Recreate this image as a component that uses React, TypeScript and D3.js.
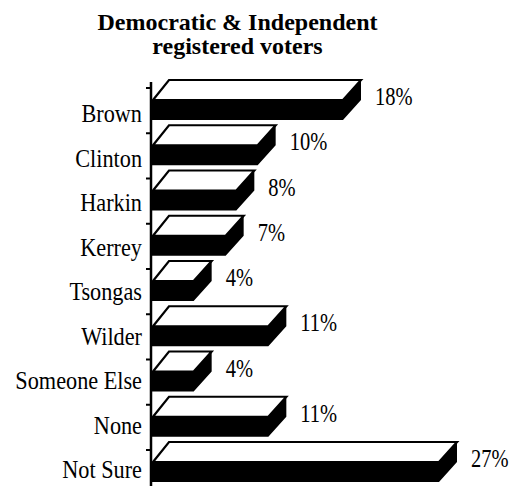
import React from "react";
import * as d3 from "d3";

const categories = ["Brown", "Clinton", "Harkin", "Kerrey", "Tsongas", "Wilder", "Someone Else", "None", "Not Sure"];
const values = [18, 10, 8, 7, 4, 11, 4, 11, 27];
const titleLines = ["Democratic & Independent", "registered voters"];

export default function App() {
  const W = 517, H = 486;
  const x0 = 151;
  const x = d3.scaleLinear().domain([0, 27]).range([x0, 439]);
  const y = d3.scalePoint<string>().domain(categories).range([80, 442]);
  const yl = d3.scalePoint<string>().domain(categories).range([122, 478]);
  const dx = 18, dy = 20, h = 20;
  const font = "'Liberation Serif', 'Times New Roman', serif";
  const labSx = 0.89, valSx = 0.82;
  return (
    <svg width={W} height={H} style={{ position: "fixed", left: 0, top: 0, background: "#fff" }}>
      {titleLines.map((t, i) => (
        <text key={i} x={237.5} y={30 + i * 24} textAnchor="middle" fontFamily={font} fontWeight="bold" fontSize={24}>{t}</text>
      ))}
      <line x1={x0} x2={x0} y1={82} y2={H} stroke="#000" strokeWidth={2.5} />
      {categories.map((c, i) => {
        const yb = y(c)!;
        const xr = x(values[i]);
        const yf = yb + dy;
        const black = `M${x0},${yf} L${xr},${yf} L${xr + dx},${yb} L${xr + dx},${yb + h} L${xr},${yf + h} L${x0},${yf + h} Z`;
        const top = `M${x0 + 2},${yf} L${xr},${yf} L${xr + dx},${yb} L${x0 + dx},${yb} Z`;
        const vx = xr + dx + 14;
        return (
          <g key={c}>
            <line x1={146} x2={x0} y1={yb + 8} y2={yb + 8} stroke="#000" strokeWidth={2} />
            <path d={black} fill="#000" />
            <path d={top} fill="#fff" stroke="#000" strokeWidth={2.2} strokeLinejoin="miter" />
            <text transform={`translate(142,${yl(c)}) scale(${labSx},1)`} textAnchor="end" fontFamily={font} fontSize={25}>{c}</text>
            <text transform={`translate(${vx},${yb + 25}) scale(${valSx},1)`} fontFamily={font} fontSize={25}>{values[i]}%</text>
          </g>
        );
      })}
    </svg>
  );
}
